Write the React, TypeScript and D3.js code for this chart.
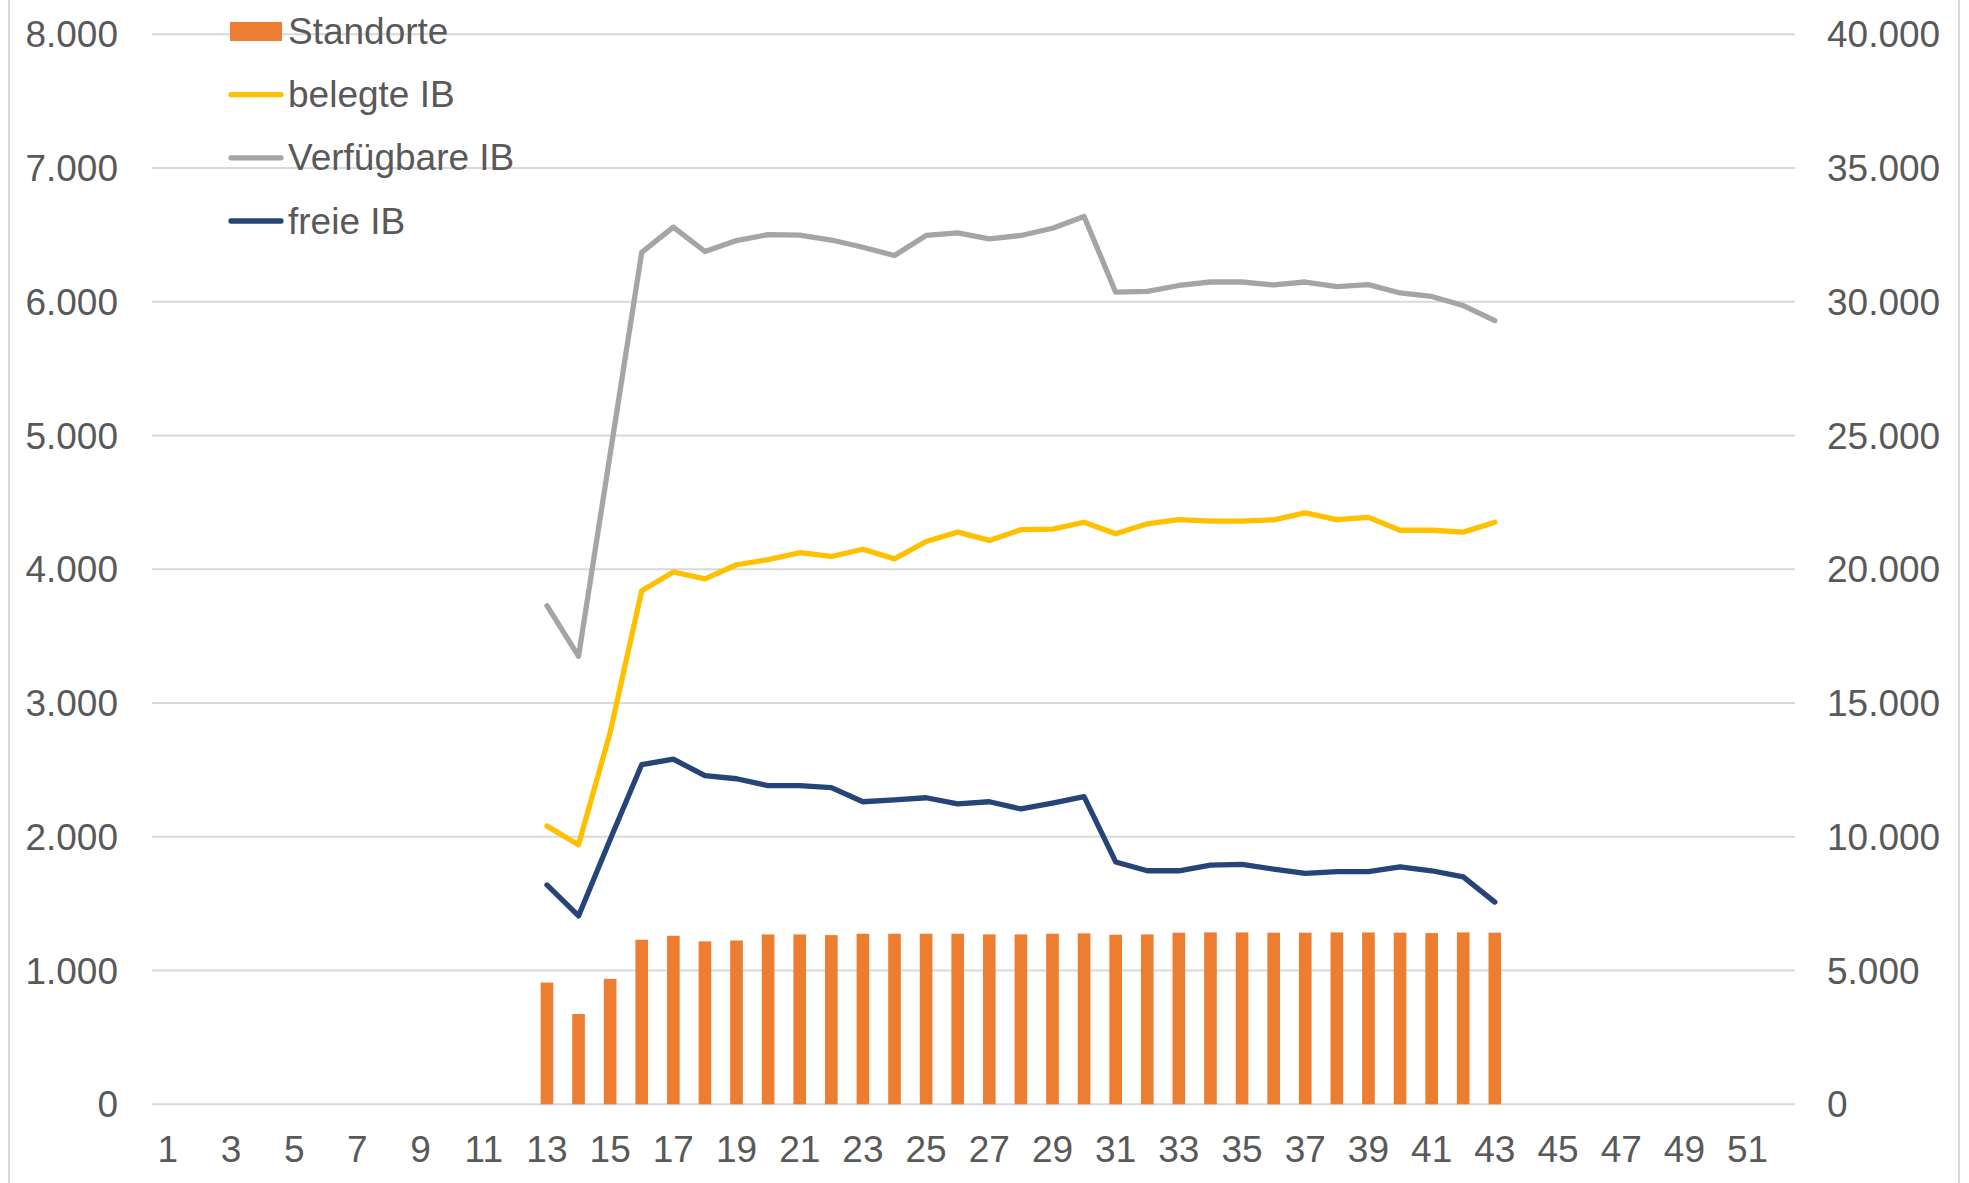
import React from "react";
import * as d3 from "d3";

// Calendar weeks on the x axis
const weeks: number[] = Array.from({ length: 52 }, (_, i) => i + 1);
const tickWeeks: number[] = [1, 3, 5, 7, 9, 11, 13, 15, 17, 19, 21, 23, 25, 27, 29, 31, 33, 35, 37, 39, 41, 43, 45, 47, 49, 51];
// Weeks that carry data
const dataWeeks: number[] = [13, 14, 15, 16, 17, 18, 19, 20, 21, 22, 23, 24, 25, 26, 27, 28, 29, 30, 31, 32, 33, 34, 35, 36, 37, 38, 39, 40, 41, 42, 43];

// Left axis (bars)
const standorte: number[] = [910, 675, 938, 1230, 1260, 1218, 1225, 1270, 1270, 1265, 1275, 1275, 1275, 1275, 1270, 1270, 1275, 1278, 1268, 1270, 1283, 1285, 1285, 1283, 1283, 1285, 1285, 1283, 1280, 1285, 1283];
// Right axis (lines)
const belegteIB: number[] = [10400, 9700, 13900, 19200, 19900, 19640, 20170, 20360, 20620, 20480, 20750, 20390, 21040, 21390, 21080, 21480, 21500, 21760, 21330, 21700, 21860, 21800, 21800, 21850, 22110, 21860, 21940, 21460, 21460, 21390, 21760];
const verfuegbareIB: number[] = [18640, 16750, 24300, 31850, 32790, 31880, 32290, 32510, 32490, 32310, 32040, 31730, 32480, 32580, 32350, 32480, 32750, 33190, 30360, 30390, 30610, 30740, 30740, 30630, 30740, 30570, 30640, 30330, 30200, 29860, 29300];
const freieIB: number[] = [8200, 7040, 9900, 12700, 12900, 12290, 12170, 11910, 11910, 11840, 11310, 11380, 11460, 11230, 11310, 11040, 11260, 11500, 9060, 8730, 8730, 8940, 8970, 8790, 8630, 8700, 8700, 8880, 8730, 8500, 7560];

const leftTicks: number[] = [0, 1000, 2000, 3000, 4000, 5000, 6000, 7000, 8000];
const rightTicks: number[] = [0, 5000, 10000, 15000, 20000, 25000, 30000, 35000, 40000];

const lineSeries = [
  { name: "belegte IB", values: belegteIB, color: "#FFC000" },
  { name: "Verfügbare IB", values: verfuegbareIB, color: "#A5A5A5" },
  { name: "freie IB", values: freieIB, color: "#264478" },
];

const W = 1969;
const H = 1183;
const plotLeft = 152;
const plotRight = 1795;
const plotTop = 34.3;
const plotBottom = 1104.3;
const FONT = "'Liberation Sans', Arial, sans-serif";
const FS = 37;
const TEXT = "#595959";
const GRID = "#D9D9D9";

const de = d3.formatLocale({ decimal: ",", thousands: ".", grouping: [3], currency: ["", " €"] });
const fmt = de.format(",");

export default function App() {
  const x = d3.scaleBand<number>().domain(weeks).range([plotLeft, plotRight]).padding(0);
  const yL = d3.scaleLinear().domain([0, 8000]).range([plotBottom, plotTop]);
  const yR = d3.scaleLinear().domain([0, 40000]).range([plotBottom, plotTop]);
  const bw = x.bandwidth() / 2.5;
  const cx = (w: number) => (x(w) as number) + x.bandwidth() / 2;

  const line = d3
    .line<number>()
    .x((_, i) => cx(dataWeeks[i]))
    .y((d) => yR(d));

  const legendRows = [
    { name: "Standorte", type: "bar", color: "#ED7D31" },
    ...lineSeries.map((s) => ({ name: s.name, type: "line", color: s.color })),
  ];
  const legendY = d3.scaleLinear().domain([0, 3]).range([31.5, 221]);

  return (
    <svg
      width={W}
      height={H}
      style={{ position: "absolute", left: 0, top: 0, background: "#fff" }}
      fontFamily={FONT}
    >
      <rect x={0} y={0} width={W} height={H} fill="#fff" />
      {/* chart border */}
      <line x1={9} x2={9} y1={0} y2={H} stroke={GRID} strokeWidth={2} />
      <line x1={1959} x2={1959} y1={0} y2={H} stroke={GRID} strokeWidth={2} />

      {/* gridlines */}
      {leftTicks.map((t) => (
        <line key={"g" + t} x1={plotLeft} x2={plotRight} y1={yL(t)} y2={yL(t)} stroke={GRID} strokeWidth={2} />
      ))}

      {/* left axis labels */}
      {leftTicks.map((t) => (
        <text key={"l" + t} x={118} y={yL(t) + 13} textAnchor="end" fontSize={FS} fill={TEXT}>
          {fmt(t)}
        </text>
      ))}
      {/* right axis labels */}
      {rightTicks.map((t) => (
        <text key={"r" + t} x={1827} y={yR(t) + 13} textAnchor="start" fontSize={FS} fill={TEXT}>
          {fmt(t)}
        </text>
      ))}
      {/* x labels */}
      {tickWeeks.map((w) => (
        <text key={"x" + w} x={cx(w)} y={1162} textAnchor="middle" fontSize={FS} fill={TEXT}>
          {w}
        </text>
      ))}

      {/* bars */}
      {standorte.map((v, i) => (
        <rect
          key={"b" + i}
          x={cx(dataWeeks[i]) - bw / 2}
          y={yL(v)}
          width={bw}
          height={yL(0) - yL(v)}
          fill="#ED7D31"
        />
      ))}

      {/* lines */}
      {lineSeries.map((s) => (
        <path
          key={s.name}
          d={line(s.values) || ""}
          fill="none"
          stroke={s.color}
          strokeWidth={5.3}
          strokeLinejoin="round"
          strokeLinecap="round"
        />
      ))}

      {/* legend */}
      {legendRows.map((r, i) => {
        const cy = legendY(i);
        return (
          <g key={"lg" + r.name}>
            {r.type === "bar" ? (
              <rect x={230} y={cy - 9.5} width={52} height={19} fill={r.color} />
            ) : (
              <line x1={231} x2={281} y1={cy} y2={cy} stroke={r.color} strokeWidth={5.3} strokeLinecap="round" />
            )}
            <text x={288} y={cy + 12.5} fontSize={FS} fill={TEXT}>
              {r.name}
            </text>
          </g>
        );
      })}
    </svg>
  );
}
